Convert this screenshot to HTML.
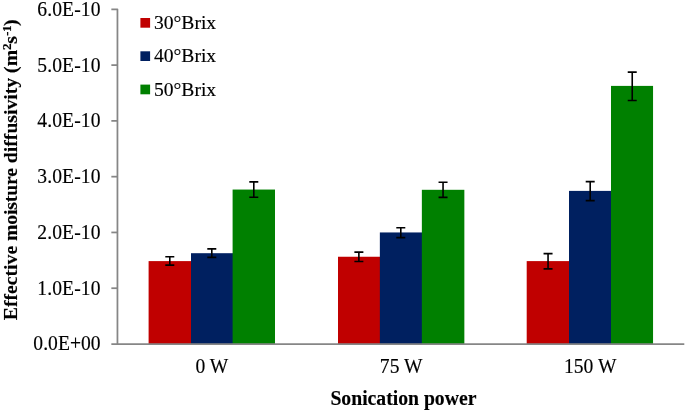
<!DOCTYPE html>
<html><head><meta charset="utf-8"><title>Chart</title>
<style>html,body{margin:0;padding:0;background:#fff;}svg{display:block;}svg{will-change:transform;}text{font-family:"Liberation Serif",serif;fill:#000;stroke:#000;stroke-width:0.15px;}</style></head><body>
<svg width="685" height="411" viewBox="0 0 685 411">
<rect x="0" y="0" width="685" height="411" fill="#ffffff"/>
<rect x="148.60" y="261.10" width="43.40" height="82.90" fill="#C00000"/>
<rect x="191.00" y="253.20" width="42.60" height="90.80" fill="#002060"/>
<rect x="232.60" y="189.55" width="42.40" height="154.45" fill="#008000"/>
<rect x="338.00" y="256.75" width="42.85" height="87.25" fill="#C00000"/>
<rect x="379.85" y="232.45" width="43.00" height="111.55" fill="#002060"/>
<rect x="421.85" y="189.80" width="42.50" height="154.20" fill="#008000"/>
<rect x="526.70" y="261.10" width="43.30" height="82.90" fill="#C00000"/>
<rect x="569.00" y="190.90" width="43.00" height="153.10" fill="#002060"/>
<rect x="611.00" y="85.90" width="42.05" height="258.10" fill="#008000"/>
<g stroke="#868686" stroke-width="1.75" fill="none">
<path stroke-linejoin="round" d="M111.35 9.32H117.45V344.85"/>
<line x1="111.35" y1="344.0" x2="684.3" y2="344.0"/>
<line x1="111.35" y1="288.22" x2="117.45" y2="288.22"/>
<line x1="111.35" y1="232.44" x2="117.45" y2="232.44"/>
<line x1="111.35" y1="176.66" x2="117.45" y2="176.66"/>
<line x1="111.35" y1="120.88" x2="117.45" y2="120.88"/>
<line x1="111.35" y1="65.10" x2="117.45" y2="65.10"/>
</g>
<g stroke="#000" stroke-width="1.6" fill="none">
<path d="M165.30 256.80H174.30M165.30 265.10H174.30M169.80 256.80V265.10"/>
<path d="M207.30 248.85H216.30M207.30 257.40H216.30M211.80 248.85V257.40"/>
<path d="M249.30 181.90H258.30M249.30 197.25H258.30M253.80 181.90V197.25"/>
<path d="M354.38 252.10H363.38M354.38 261.50H363.38M358.88 252.10V261.50"/>
<path d="M396.30 227.70H405.30M396.30 237.65H405.30M400.80 227.70V237.65"/>
<path d="M438.55 182.26H447.55M438.55 197.40H447.55M443.05 182.26V197.40"/>
<path d="M543.55 253.60H552.55M543.55 268.90H552.55M548.05 253.60V268.90"/>
<path d="M585.70 181.60H594.70M585.70 200.60H594.70M590.20 181.60V200.60"/>
<path d="M627.73 72.10H636.73M627.73 100.50H636.73M632.23 72.10V100.50"/>
</g>
<text transform="translate(100.6 350.40) scale(1 1.06)" font-size="19.6" text-anchor="end" letter-spacing="0.02">0.0E+00</text>
<text transform="translate(100.6 294.62) scale(1 1.06)" font-size="19.6" text-anchor="end" letter-spacing="0.1">1.0E-10</text>
<text transform="translate(100.6 238.84) scale(1 1.06)" font-size="19.6" text-anchor="end" letter-spacing="0.1">2.0E-10</text>
<text transform="translate(100.6 183.06) scale(1 1.06)" font-size="19.6" text-anchor="end" letter-spacing="0.1">3.0E-10</text>
<text transform="translate(100.6 127.28) scale(1 1.06)" font-size="19.6" text-anchor="end" letter-spacing="0.1">4.0E-10</text>
<text transform="translate(100.6 71.50) scale(1 1.06)" font-size="19.6" text-anchor="end" letter-spacing="0.1">5.0E-10</text>
<text transform="translate(100.6 15.72) scale(1 1.06)" font-size="19.6" text-anchor="end" letter-spacing="0.1">6.0E-10</text>
<text transform="translate(211.88 372.6) scale(1 1.06)" font-size="19.6" text-anchor="middle">0 W</text>
<text transform="translate(401.18 372.6) scale(1 1.06)" font-size="19.6" text-anchor="middle">75 W</text>
<text transform="translate(590.23 372.6) scale(1 1.06)" font-size="19.6" text-anchor="middle">150 W</text>
<text transform="translate(403.4 404.9) scale(1 1.06)" font-size="19.7" font-weight="bold" text-anchor="middle">Sonication power</text>
<text transform="translate(16.5 320.2) rotate(-90)" font-size="19.7" font-weight="bold" text-anchor="start">Effective <tspan letter-spacing="-0.14">moisture</tspan> diffusivity (m<tspan font-size="13.2" dy="-5.9" letter-spacing="-0.45">2</tspan><tspan dy="5.9">s</tspan><tspan font-size="13.2" dy="-5.9" letter-spacing="-0.4">-1</tspan><tspan dy="5.9">)</tspan></text>
<rect x="140.4" y="18.00" width="9.7" height="9.7" fill="#C00000"/>
<text transform="translate(153.95 28.90) scale(1 1.005)" font-size="19.6">30°Brix</text>
<rect x="140.4" y="51.30" width="9.7" height="9.7" fill="#002060"/>
<text transform="translate(153.95 62.20) scale(1 1.005)" font-size="19.6">40°Brix</text>
<rect x="140.4" y="84.60" width="9.7" height="9.7" fill="#008000"/>
<text transform="translate(153.95 95.50) scale(1 1.005)" font-size="19.6">50°Brix</text>
</svg></body></html>
